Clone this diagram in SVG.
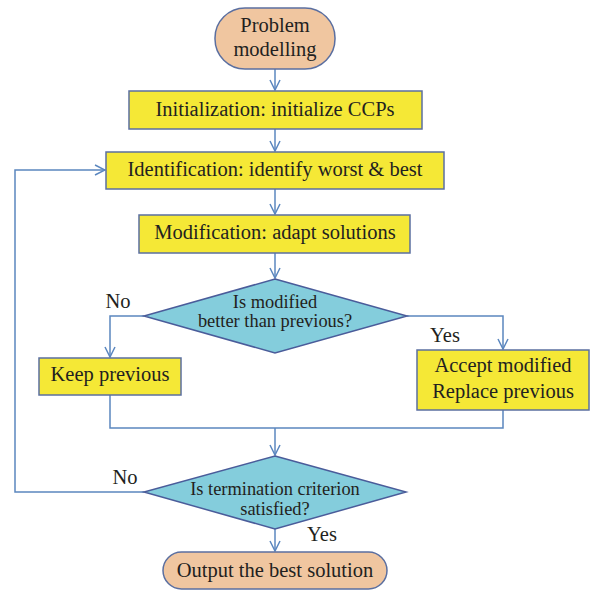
<svg xmlns="http://www.w3.org/2000/svg" width="594" height="590" viewBox="0 0 594 590">
<style>
.box{fill:#F5E836;stroke:#5B6FA0;stroke-width:1.5}
.term{fill:#F0C6A0;stroke:#5B6FA0;stroke-width:1.5}
.dec{fill:#84CDDC;stroke:#4A5C9A;stroke-width:1.5}
.t{font-family:"Liberation Serif",serif;font-size:20.5px;fill:#231F20;text-anchor:middle}
.s{font-size:18.4px}
.ln{fill:none;stroke:#5B87BF;stroke-width:1.5}
</style>
<defs>
<marker id="ah" viewBox="0 0 12 12" refX="11" refY="6" markerWidth="12" markerHeight="12" markerUnits="userSpaceOnUse" orient="auto">
<polyline points="1,1 11,6 1,11" fill="none" stroke="#5B87BF" stroke-width="1.5"/>
</marker>
</defs>
<g id="connectors">
<line class="ln" x1="275" y1="69" x2="275" y2="90" marker-end="url(#ah)"/>
<line class="ln" x1="275" y1="129" x2="275" y2="151" marker-end="url(#ah)"/>
<line class="ln" x1="275" y1="189" x2="275" y2="214" marker-end="url(#ah)"/>
<line class="ln" x1="275" y1="253" x2="275" y2="278" marker-end="url(#ah)"/>
<polyline class="ln" points="144,316 110,316 110,357" marker-end="url(#ah)"/>
<polyline class="ln" points="407,316 503,316 503,349" marker-end="url(#ah)"/>
<polyline class="ln" points="110,395 110,428 503,428 503,410"/>
<line class="ln" x1="275" y1="428" x2="275" y2="455" marker-end="url(#ah)"/>
<polyline class="ln" points="144,492 15,492 15,170 105,170" marker-end="url(#ah)"/>
<line class="ln" x1="275" y1="529" x2="275" y2="551" marker-end="url(#ah)"/>
</g>
<g id="start">
<rect class="term" x="215" y="8" width="120" height="61" rx="30" ry="30"/>
<text class="t" x="275" y="32">Problem</text>
<text class="t" x="275" y="56">modelling</text>
</g>
<g id="init">
<rect class="box" x="129" y="91" width="293" height="38"/>
<text class="t" x="275" y="116">Initialization: initialize CCPs</text>
</g>
<g id="ident">
<rect class="box" x="106" y="152" width="338" height="37"/>
<text class="t" x="275" y="176">Identification: identify worst &amp; best</text>
</g>
<g id="modif">
<rect class="box" x="139" y="215" width="271" height="38"/>
<text class="t" x="275" y="239">Modification: adapt solutions</text>
</g>
<g id="dec1">
<polygon class="dec" points="275,279 407,316 275,353 144,316"/>
<text class="t s" x="275" y="308">Is modified</text>
<text class="t s" x="275" y="327">better than previous?</text>
</g>
<g id="keep">
<rect class="box" x="39" y="358" width="142" height="37"/>
<text class="t" x="110" y="381">Keep previous</text>
</g>
<g id="accept">
<rect class="box" x="417" y="350" width="172" height="60"/>
<text class="t" x="503" y="372">Accept modified</text>
<text class="t" x="503" y="398">Replace previous</text>
</g>
<g id="dec2">
<polygon class="dec" points="275,456 406,492 275,529 144,492"/>
<text class="t s" x="275" y="495">Is termination criterion</text>
<text class="t s" x="275" y="515">satisfied?</text>
</g>
<g id="end">
<rect class="term" x="163" y="552" width="224" height="37" rx="18.5" ry="18.5"/>
<text class="t" x="275" y="577">Output the best solution</text>
</g>
<g id="labels">
<text class="t" x="118" y="308">No</text>
<text class="t" x="445" y="342">Yes</text>
<text class="t" x="125" y="484">No</text>
<text class="t" x="322" y="541">Yes</text>
</g>
</svg>
